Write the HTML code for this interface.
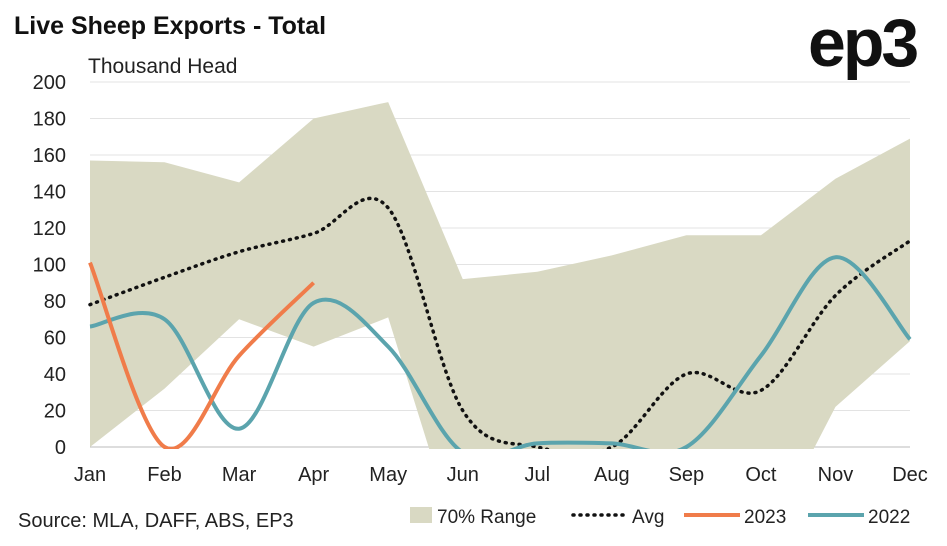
<!DOCTYPE html>
<html><head><meta charset="utf-8"><style>
body{margin:0;background:#fff;width:947px;height:541px;overflow:hidden;font-family:"Liberation Sans",sans-serif}
</style></head><body>
<svg id="chart" width="947" height="541">
<defs><clipPath id="plotclip"><rect x="60" y="75" width="880" height="374"/></clipPath></defs>
<text x="14" y="34" font-size="25" font-weight="bold" fill="#111">Live Sheep Exports - Total</text>
<text x="88" y="73" font-size="21" fill="#222">Thousand Head</text>
<text x="808" y="66" font-size="68" font-weight="bold" fill="#111" letter-spacing="-3">ep3</text>
<g id="grid"></g><g id="series" clip-path="url(#plotclip)"></g><g id="axes"></g>
<text x="18" y="527" font-size="20" fill="#222">Source: MLA, DAFF, ABS, EP3</text>
<g>
<rect x="410" y="507" width="22" height="16" fill="#d9d9c3"/>
<text x="437" y="523" font-size="19" fill="#222">70% Range</text>
<line x1="573" y1="515" x2="626" y2="515" stroke="#111" stroke-width="3.5" stroke-dasharray="1 6" stroke-linecap="round"/>
<text x="632" y="523" font-size="19" fill="#222">Avg</text>
<line x1="684" y1="515" x2="740" y2="515" stroke="#f07c4a" stroke-width="4"/>
<text x="744" y="523" font-size="19" fill="#222">2023</text>
<line x1="808" y1="515" x2="864" y2="515" stroke="#5ba4ad" stroke-width="4"/>
<text x="868" y="523" font-size="19" fill="#222">2022</text>
</g>
</svg>
<script>
const months=["Jan","Feb","Mar","Apr","May","Jun","Jul","Aug","Sep","Oct","Nov","Dec"];
const yTicks=[0,20,40,60,80,100,120,140,160,180,200];
const rangeUpper=[157,156,145,180,189,92,96,105,116,116,147,169];
const rangeLower=[0,32,70,55,71,-60,-60,-60,-60,-57,22,58];
const avg=[78,93,107,117,131,20,0,0,40,31,83,113];
const s2023=[101,0,50,90];
const s2022=[66,70,10,79,55,-3,2,2,0,50,104,59];
const NS="http://www.w3.org/2000/svg";
const x=i=>90+i*(910-90)/11;
const y=v=>447-v*(447-82)/200;
function mk(tag,attrs,parent){const e=document.createElementNS(NS,tag);for(const k in attrs)e.setAttribute(k,attrs[k]);parent.appendChild(e);return e;}
const grid=document.getElementById('grid'),axes=document.getElementById('axes'),ser=document.getElementById('series');
yTicks.forEach(t=>{
 const l=mk('line',{x1:90,x2:910,y1:y(t),y2:y(t),stroke:t===0?'#bbb':'#e3e3e3','stroke-width':1},grid);
 
 
 const tx=mk('text',{x:66,y:y(t)+7,'font-size':20,fill:'#222','text-anchor':'end'},axes);tx.textContent=t;
 
 
});
months.forEach((m,i)=>{
 const tx=mk('text',{x:x(i),y:481,'font-size':20,fill:'#222','text-anchor':'middle'},axes);tx.textContent=m;
 
 
});
let d='M'+rangeUpper.map((v,i)=>x(i)+','+y(v)).join('L');
for(let i=rangeLower.length-1;i>=0;i--)d+='L'+x(i)+','+y(rangeLower[i]);
const poly=mk('path',{d:d+'Z',fill:'#d9d9c3'},ser);


function smooth(vals){
 const p=vals.map((v,i)=>[x(i),y(v)]);let s='M'+p[0][0]+','+p[0][1];
 for(let i=0;i<p.length-1;i++){
  const p0=p[i-1]||p[i],p1=p[i],p2=p[i+1],p3=p[i+2]||p2;
  const c1=[p1[0]+(p2[0]-p0[0])/6,p1[1]+(p2[1]-p0[1])/6],c2=[p2[0]-(p3[0]-p1[0])/6,p2[1]-(p3[1]-p1[1])/6];
  s+='C'+c1+' '+c2+' '+p2;
 }return s;}
const a=mk('path',{d:smooth(avg),fill:'none',stroke:'#111','stroke-width':3.5,'stroke-dasharray':'1 6','stroke-linecap':'round'},ser);


const b=mk('path',{d:smooth(s2022),fill:'none',stroke:'#5ba4ad','stroke-width':4},ser);


const c=mk('path',{d:smooth(s2023),fill:'none',stroke:'#f07c4a','stroke-width':4},ser);


</script>
</body></html>
